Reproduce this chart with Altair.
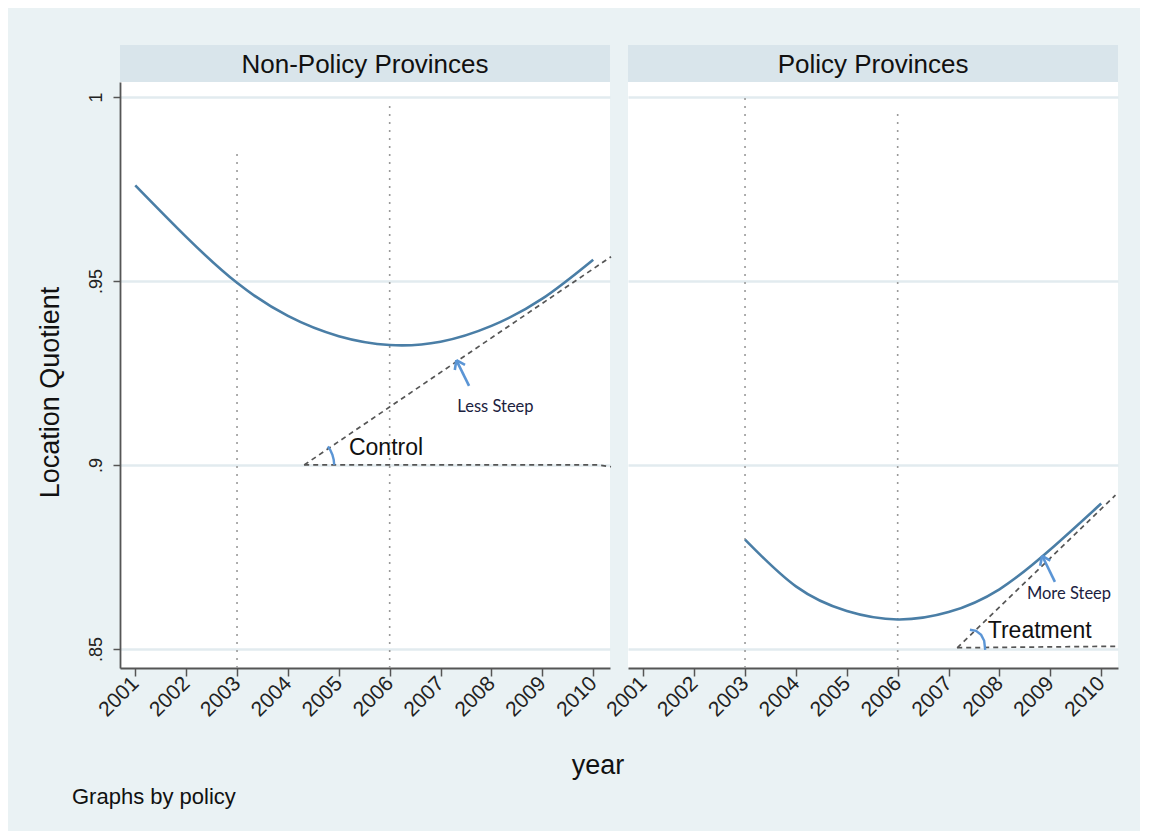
import altair as alt
import pandas as pd

# ---------------- data ----------------
panels = ["Non-Policy Provinces", "Policy Provinces"]
year_ticks = [2001, 2002, 2003, 2004, 2005, 2006, 2007, 2008, 2009, 2010]
lq_ticks = [0.85, 0.9, 0.95, 1.0]

np_years = [2001, 2002, 2003, 2004, 2005, 2006, 2007, 2008, 2009, 2010]
np_lq = [0.976, 0.962, 0.9495, 0.9405, 0.935, 0.9326, 0.9335, 0.9378, 0.9452, 0.9558]

p_years = [2003, 2004, 2005, 2006, 2007, 2008, 2009, 2010]
p_lq = [0.8797, 0.8670, 0.8603, 0.8580, 0.8600, 0.8662, 0.8770, 0.8895]

# dotted reference lines (year, top value)
np_vline_x = [2003, 2006]
np_vline_top = [0.9856, 0.9992]
p_vline_x = [2003, 2006]
p_vline_top = [1.0, 0.9965]

# dashed construction lines: segment id, x, y
np_dash_seg = ["tan", "tan", "base", "base", "base"]
np_dash_x = [2004.32, 2010.35, 2004.32, 2010.10, 2010.35]
np_dash_y = [0.9000, 0.9566, 0.9000, 0.9000, 0.8995]
p_dash_seg = ["tan", "tan", "base", "base"]
p_dash_x = [2007.17, 2010.28, 2007.17, 2010.28]
p_dash_y = [0.8503, 0.8918, 0.8503, 0.8507]

# angle arcs
np_arc_x = [2004.91, 2004.90, 2004.874, 2004.831, 2004.784]
np_arc_y = [0.9000, 0.9014, 0.9028, 0.9041, 0.9050]
p_arc_x = [2007.72, 2007.70, 2007.64, 2007.54, 2007.42]
p_arc_y = [0.8497, 0.8522, 0.8538, 0.8549, 0.8552]

# arrows: segment id, x, y
arrow_seg = ["shaft", "shaft", "armA", "armA", "armB", "armB"]
np_arrow_x = [2007.56, 2007.31, 2007.31, 2007.28, 2007.31, 2007.48]
np_arrow_y = [0.9215, 0.9285, 0.9285, 0.9258, 0.9285, 0.9272]
p_arrow_x = [2009.09, 2008.84, 2008.84, 2008.80, 2008.84, 2009.00]
p_arrow_y = [0.8682, 0.8753, 0.8753, 0.8726, 0.8753, 0.8740]

# annotations
np_group_label, np_group_x, np_group_y = "Control", 2005.20, 0.9046
p_group_label, p_group_x, p_group_y = "Treatment", 2007.77, 0.8549
np_slope_label, np_slope_x, np_slope_y = "Less Steep", 2007.33, 0.9158
p_slope_label, p_slope_x, p_slope_y = "More Steep", 2008.54, 0.8649

x_title = "year"
y_title = "Location Quotient"
note = "Graphs by policy"

# ---------------- styling ----------------
W, H, HEAD_H = 490, 586, 37
BG = "#eaf2f4"
HEAD_BG = "#d9e5eb"
GRID = "#e2ebef"
AXIS = "#555555"
CURVE = "#4a7ea6"
ARROW = "#5b95d5"
FONT = "Liberation Sans"

x_scale = alt.Scale(domain=[2000.7, 2010.33], nice=False, zero=False)
y_scale = alt.Scale(domain=[0.8448, 1.0041], nice=False, zero=False)

x_axis = alt.Axis(values=year_ticks, format="d", labelAngle=315, labelAlign="right",
                  labelBaseline="middle", labelFontSize=21, labelPadding=4,
                  labelColor="#222", tickSize=8, tickColor=AXIS, tickWidth=1.5,
                  domainColor=AXIS, domainWidth=1.8, grid=False, title=None,
                  labelFont=FONT)

y_axis_left = alt.Axis(values=lq_ticks,
                       labelExpr="datum.value == 1 ? '1' : replace(format(datum.value, '.2~f'), '0.', '.')",
                       labelAngle=270, labelAlign="center", labelBaseline="bottom",
                       labelFontSize=18, labelPadding=8, labelColor="#222",
                       tickSize=7, tickColor=AXIS, tickWidth=1.5,
                       domainColor=AXIS, domainWidth=1.8,
                       grid=True, gridColor=GRID, gridWidth=2.5,
                       title=y_title, titleFontSize=27, titleFontWeight="normal",
                       titleColor="#111", titlePadding=23, titleFont=FONT, labelFont=FONT,
                       titleY=310)

y_axis_right = alt.Axis(values=lq_ticks, labels=False, ticks=False, domain=False,
                        grid=True, gridColor=GRID, gridWidth=2.5, title=None)


def panel(name, cx, cy, vx, vtop, dseg, dx, dy, ax, ay, arx, ary,
          glab, gx, gy, slab, sx, sy, y_axis, extra_text):
    X = lambda f: alt.X(f, type="quantitative", scale=x_scale, axis=x_axis)
    Y = lambda f: alt.Y(f, type="quantitative", scale=y_scale, axis=y_axis)

    vdf = pd.DataFrame({"x": vx, "y0": [0.8448] * len(vx), "y1": vtop})
    vlines = alt.Chart(vdf).mark_rule(color="#9a9a9a", strokeWidth=1.6,
                                      strokeDash=[2, 6]).encode(
        x=X("x"), y=Y("y0"), y2="y1")

    cdf = pd.DataFrame({"x": cx, "y": cy})
    curve = alt.Chart(cdf).mark_line(color=CURVE, strokeWidth=2.6,
                                     interpolate="natural").encode(x=X("x"), y=Y("y"))

    ddf = pd.DataFrame({"seg": dseg, "x": dx, "y": dy, "o": list(range(len(dx)))})
    dashes = alt.Chart(ddf).mark_line(color="#555555", strokeWidth=1.7,
                                      strokeDash=[5, 4]).encode(
        x=X("x"), y=Y("y"), detail="seg:N", order="o:Q")

    adf = pd.DataFrame({"x": ax, "y": ay, "o": list(range(len(ax)))})
    arc = alt.Chart(adf).mark_line(color=ARROW, strokeWidth=2.4).encode(
        x=X("x"), y=Y("y"), order="o:Q")

    rdf = pd.DataFrame({"seg": arrow_seg, "x": arx, "y": ary,
                        "o": list(range(len(arx)))})
    arrow = alt.Chart(rdf).mark_line(color=ARROW, strokeWidth=2.6).encode(
        x=X("x"), y=Y("y"), detail="seg:N", order="o:Q")

    gdf = pd.DataFrame({"t": [glab], "x": [gx], "y": [gy]})
    gtext = alt.Chart(gdf).mark_text(align="left", baseline="middle", fontSize=23,
                                     font=FONT, color="#111").encode(
        x=X("x"), y=Y("y"), text="t:N")

    sdf = pd.DataFrame({"t": [slab], "x": [sx], "y": [sy]})
    stext = alt.Chart(sdf).mark_text(align="left", baseline="middle", fontSize=16.5,
                                     font="Lato", color="#1b2140").encode(
        x=X("x"), y=Y("y"), text="t:N")

    hdf = pd.DataFrame({"panel": [name]})
    head_rect = alt.Chart(hdf).mark_rect(color=HEAD_BG).encode(
        x=alt.value(0), x2=alt.value(W), y=alt.value(-HEAD_H), y2=alt.value(0))
    head_text = alt.Chart(hdf).mark_text(fontSize=26, font=FONT, color="#111",
                                         baseline="middle", align="center").encode(
        x=alt.value(W / 2), y=alt.value(-HEAD_H / 2 + 1), text="panel:N")

    layers = [vlines, curve, dashes, arc, arrow, gtext, stext,
              head_rect, head_text] + extra_text
    return alt.layer(*layers).properties(
        width=W, height=H, view=alt.ViewBackground(fill="white", stroke=None))


year_df = pd.DataFrame({"t": [x_title]})
year_text = alt.Chart(year_df).mark_text(fontSize=27, font=FONT, color="#111",
                                         align="center", baseline="middle").encode(
    x=alt.value(478), y=alt.value(684), text="t:N")
note_df = pd.DataFrame({"t": [note]})
note_text = alt.Chart(note_df).mark_text(fontSize=22, font=FONT, color="#111",
                                         align="left", baseline="middle").encode(
    x=alt.value(-48), y=alt.value(715), text="t:N")

left = panel(panels[0], np_years, np_lq, np_vline_x, np_vline_top,
             np_dash_seg, np_dash_x, np_dash_y, np_arc_x, np_arc_y,
             np_arrow_x, np_arrow_y, np_group_label, np_group_x, np_group_y,
             np_slope_label, np_slope_x, np_slope_y, y_axis_left,
             [year_text, note_text])
right = panel(panels[1], p_years, p_lq, p_vline_x, p_vline_top,
              p_dash_seg, p_dash_x, p_dash_y, p_arc_x, p_arc_y,
              p_arrow_x, p_arrow_y, p_group_label, p_group_x, p_group_y,
              p_slope_label, p_slope_x, p_slope_y, y_axis_right, [])

chart = alt.hconcat(left, right, spacing=18, bounds="flush").properties(
    background=BG,
    padding={"left": 28, "top": 37, "right": 21, "bottom": 23},
).configure_view(stroke=None).configure(font=FONT)

chart.save("out.html", embed_options={"renderer": "svg", "actions": False})
